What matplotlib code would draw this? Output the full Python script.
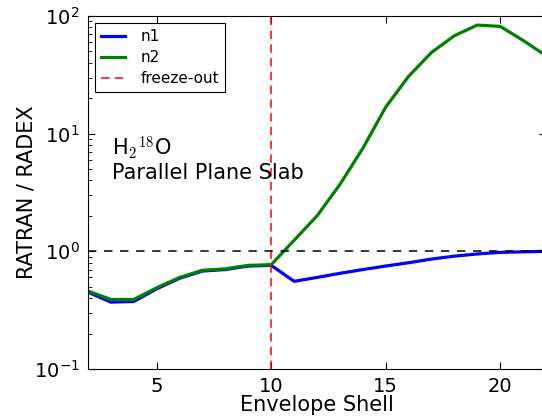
import matplotlib
matplotlib.use("Agg")
import matplotlib.pyplot as plt
import numpy as np

plt.rcParams['mathtext.fontset'] = 'cm'
plt.rcParams['axes.unicode_minus'] = False
plt.rcParams['font.family'] = ['DejaVu Sans']

shells = list(range(2, 23))
n1 = [0.45, 0.37, 0.375, 0.48, 0.59, 0.68, 0.70, 0.75, 0.76,
      0.556, 0.60, 0.65, 0.70, 0.75, 0.80, 0.86, 0.91, 0.95, 0.98, 0.99, 1.0]
n2 = [0.46, 0.39, 0.39, 0.49, 0.60, 0.69, 0.71, 0.76, 0.77,
      1.24, 2.0, 3.7, 7.5, 16.8, 30.7, 49, 68, 83.7, 81.6, 62, 46]
freeze_out = 10
reference_ratio = 1.0

fig = plt.figure(figsize=(5.42, 4.19), dpi=100)
ax = fig.add_axes([88/542, 50/419, 458/542, 353/419])

ax.plot(shells, n1, color='blue', lw=2.3, label='n1')
ax.plot(shells, n2, color='green', lw=2.3, label='n2')
ax.axvline(freeze_out, color='red', lw=1.1, ls=(0, (5.5, 3.5)), label='freeze-out')
ax.axhline(reference_ratio, color='black', lw=1.1, ls=(0, (5.5, 5)))

ax.set_yscale('log')
ax.set_xlim(2, 22)
ax.set_ylim(0.1, 100)
ax.set_xticks([5, 10, 15, 20])
ax.tick_params(which='both', direction='in', top=True, right=True, labelsize=14)
ax.tick_params(which='major', length=5, pad=6)
ax.tick_params(which='minor', length=3)

ax.set_xlabel('Envelope Shell', fontsize=15, labelpad=-1)
ax.set_ylabel('RATRAN / RADEX', fontsize=15, labelpad=-2)

ax.text(0.052, 0.627, r'H$_2$$^{18}$O', transform=ax.transAxes, fontsize=15,
        va='center', ha='left')
ax.text(0.052, 0.555, 'Parallel Plane Slab', transform=ax.transAxes, fontsize=15,
        va='center', ha='left')

leg = ax.legend(loc='upper left', fontsize=11, fancybox=False, framealpha=1,
                edgecolor='black', borderaxespad=0.45, handlelength=1.6,
                handletextpad=1.0, labelspacing=0.4)
leg.get_frame().set_linewidth(0.8)

fig.savefig('out.png', dpi=100)
